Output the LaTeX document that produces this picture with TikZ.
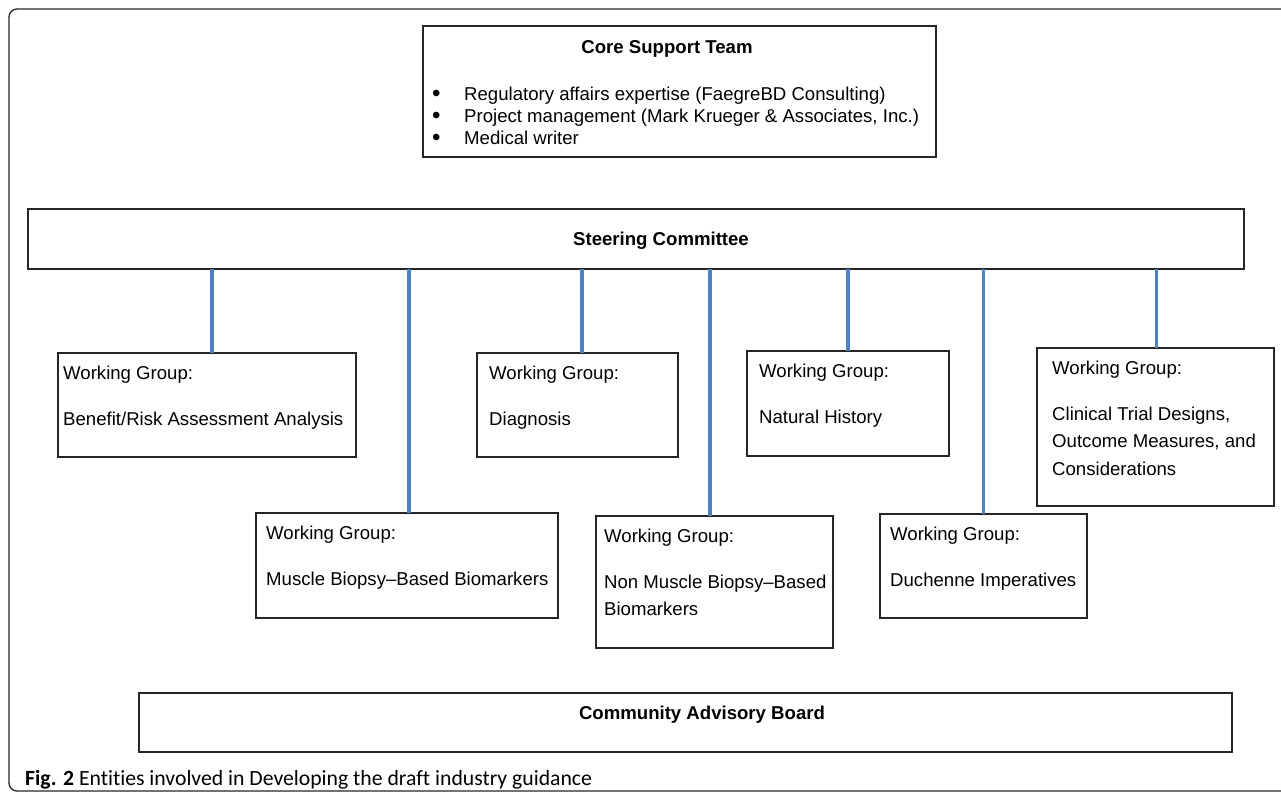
\documentclass[tikz,border=0pt]{standalone}
\usepackage{fontspec}
\setmainfont{Liberation Sans}
\newfontfamily\capfont[Ligatures=NoCommon]{Carlito}
\usepackage{xcolor}
\usepackage{tikz}
\usetikzlibrary{calc}
\definecolor{linkblue}{HTML}{4F81BD}
\tikzstyle{box} = [draw=black!85, line width=1.3pt, inner sep=0pt, outer sep=0pt, anchor=north west]
\tikzstyle{wgtext} = [anchor=north west, inner sep=0pt, align=left, font=\fontsize{18.6}{27.5}\selectfont]
\tikzstyle{title} = [anchor=base, inner sep=0pt, font=\bfseries\fontsize{18.6}{22}\selectfont]
\tikzstyle{link} = [draw=linkblue, line width=3.8pt]
\newcommand{\cstbullet}{\makebox[32pt][l]{\smash{\raisebox{-1.8pt}{\scalebox{1.3}{\textbullet}}}}}

\begin{document}
\begin{tikzpicture}[x = 1pt, y = -1pt]
	\useasboundingbox (0, 0) rectangle (1281, 794) ;
	\draw[black!85, line width=1.3pt, rounded corners=8pt] (1300, 791) -- (9, 791) -- (9, 9) -- (1300, 9) ;
	
	\node[box, minimum width=513pt, minimum height=131pt] (cst) at (423, 26) {} ;
	\node[box, minimum width=1216pt, minimum height=60pt] (sc) at (28, 209) {} ;
	\node[box, minimum width=1093pt, minimum height=59pt] (cab) at (139, 693) {} ;
	
	\node[box, minimum width=298pt, minimum height=104pt] (bra) at (58, 353) {} ;
	\node[box, minimum width=201pt, minimum height=104pt] (dia) at (477, 353) {} ;
	\node[box, minimum width=202pt, minimum height=105pt] (nat) at (747, 351) {} ;
	\node[box, minimum width=237pt, minimum height=158pt] (ctd) at (1037, 348) {} ;
	\node[box, minimum width=302pt, minimum height=105pt] (mbb) at (256, 513) {} ;
	\node[box, minimum width=237pt, minimum height=132pt] (nmb) at (596, 516) {} ;
	\node[box, minimum width=207pt, minimum height=104pt] (dim) at (880, 514) {} ;
	
	\node[title] (cstT) at (667, 54) {Core Support Team} ;
	\node[title] (scT) at (661, 245) {Steering Committee} ;
	\node[title] (cabT) at (702, 719) {Community Advisory Board} ;
	
	\node[anchor=north west, inner sep=0pt, align=left, font=\fontsize{18.6}{22}\selectfont] (cstL) at (432, 86.5)
		{\cstbullet Regulatory affairs expertise (FaegreBD Consulting)\\
		 \cstbullet Project management (Mark Krueger \& Associates, Inc.)\\
		 \cstbullet Medical writer} ;
	
	\node[wgtext] (braT) at ($(bra.north west) + (5, 12.5)$) {Working Group:\\[18.5pt]Benefit/Risk Assessment Analysis} ;
	\node[wgtext] (diaT) at ($(dia.north west) + (12, 12.5)$) {Working Group:\\[18.5pt]Diagnosis} ;
	\node[wgtext] (natT) at ($(nat.north west) + (12, 12.5)$) {Working Group:\\[18.5pt]Natural History} ;
	\node[wgtext] (ctdT) at ($(ctd.north west) + (15, 12.5)$) {Working Group:\\[18.5pt]Clinical Trial Designs,\\Outcome Measures, and\\Considerations} ;
	\node[wgtext] (mbbT) at ($(mbb.north west) + (10, 12.5)$) {Working Group:\\[18.5pt]Muscle Biopsy--Based Biomarkers} ;
	\node[wgtext] (nmbT) at ($(nmb.north west) + (8, 12.5)$) {Working Group:\\[18.5pt]Non Muscle Biopsy--Based\\Biomarkers} ;
	\node[wgtext] (dimT) at ($(dim.north west) + (10, 12.5)$) {Working Group:\\[18.5pt]Duchenne Imperatives} ;
	
	\foreach \p/\dx in {bra/5, mbb/2, dia/4.5, nmb/-4.5, nat/0, dim/0, ctd/1}
	{
		\draw[link] ([xshift=\dx pt]\p.north) -- ([xshift=\dx pt]\p.north |- sc.south) ;
	}
	
	\node[anchor=base west, inner sep=0pt, font=\capfont\fontsize{21.7}{24}\selectfont] (cap) at (25, 785)
		{\textbf{Fig. 2} Entities involved in Developing the draft industry guidance} ;
\end{tikzpicture}
\end{document}
